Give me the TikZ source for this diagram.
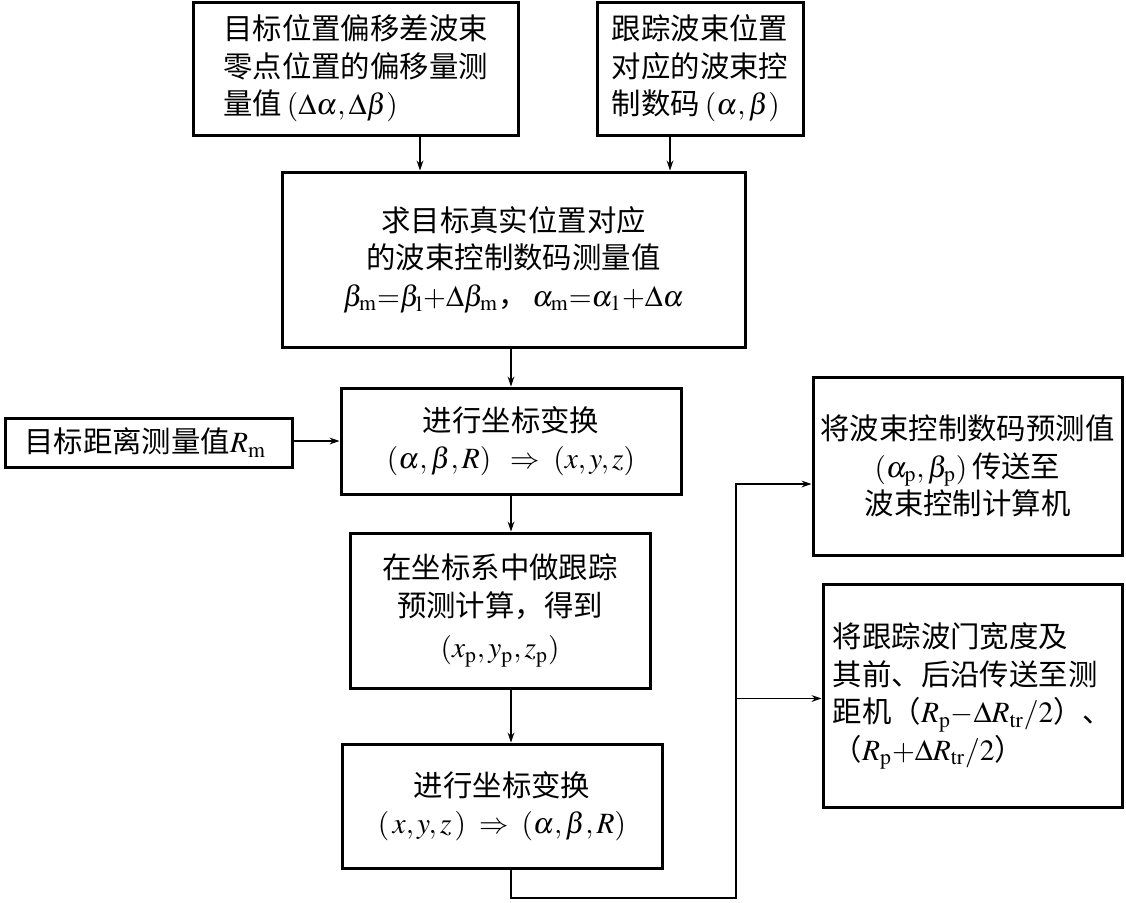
\documentclass[tikz,border=0pt]{standalone}
\usepackage{mathptmx}
\usepackage{fontspec}
\setmainfont{Liberation Serif}
\newfontfamily\cjk{Noto Sans CJK SC}
\usetikzlibrary{arrows.meta,positioning}

\begin{document}
\begin{tikzpicture}[
      x=0.5pt, y=-0.5pt,
      block/.style={
        draw=black, line width=1.5pt, fill=white, align=center,
        font=\cjk\fontsize{14.7}{18.8}\selectfont, inner sep=2pt
      },
      rel/.style={-{Stealth[length=5pt,width=3.4pt]}, line width=0.6pt, draw=black}
    ]
    \useasboundingbox (0,0) rectangle (1126,902);

    \node[block, align=left, minimum width=162.5pt, minimum height=66.5pt] (offs) at (355.5,68.5) {
      目标位置偏移差波束\\
      零点位置的偏移量测\\
      量值\,$(\Delta\alpha,\Delta\beta)$
    };
    \node[block, align=left, minimum width=103pt, minimum height=66.5pt] (code) at (700,68.5) {
      跟踪波束位置\\
      对应的波束控\\
      制数码\,$(\alpha,\beta)$
    };
    \node[block, minimum width=231.5pt, minimum height=87.5pt] (solve) at (513.5,259.5) {
      求目标真实位置对应\\
      的波束控制数码测量值\\
      $\beta_{\rm m}{=}\beta_{\rm l}{+}\Delta\beta_{\rm m}$，\,$\alpha_{\rm m}{=}\alpha_1{+}\Delta\alpha$
    };
    \node[block, minimum width=170pt, minimum height=53pt] (conv) at (511,441) {
      进行坐标变换\\
      $(\alpha,\beta,R)\;\;\Rightarrow\;(x,y,z)$
    };
    \node[block, minimum width=143.5pt, minimum height=24.5pt] (range) at (148.5,442.5) {
      目标距离测量值$R_{\rm m}$
    };
    \node[block, minimum width=150pt, minimum height=77.5pt] (track) at (500,610.5) {
      在坐标系中做跟踪\\
      预测计算，得到\\[2pt]
      $(x_{\rm p},y_{\rm p},z_{\rm p})$
    };
    \node[block, minimum width=160pt, minimum height=62pt] (back) at (502,806) {
      进行坐标变换\\
      $(\,x,y,z\,)\;\Rightarrow\;(\alpha,\beta,R)$
    };
    \node[block, minimum width=154.5pt, minimum height=89pt] (beam) at (967.5,466) {
      将波束控制数码预测值\\
      $(\alpha_{\rm p},\beta_{\rm p})$\,传送至\\
      波束控制计算机
    };
    \node[block, align=left, minimum width=149.5pt, minimum height=111.5pt] (gate) at (972.5,696) {
      将跟踪波门宽度及\\
      其前、后沿传送至测\\
      距机（$R_{\rm p}{-}\Delta R_{\rm tr}/2$）、\\
      （$R_{\rm p}{+}\Delta R_{\rm tr}/2$）
    };

    \coordinate (bus) at (736,898);

    \draw[rel] ([xshift=32.25pt]offs.south) -- ([xshift=32.25pt]offs.south |- solve.north);
    \draw[rel] ([xshift=-15pt]code.south) -- ([xshift=-15pt]code.south |- solve.north);
    \draw[rel] (conv.north |- solve.south) -- (conv.north);
    \draw[rel] (range.east |- conv.west) -- (conv.west);
    \draw[rel] (conv.south) -- (conv.south |- track.north);
    \draw[rel] (conv.south |- track.south) -- (conv.south |- back.north);
    \draw[line width=0.6pt] (conv.south |- back.south) |- (bus) -- ([yshift=-1.25pt]bus |- gate.west);
    \draw[rel] ([yshift=-1.25pt]bus |- gate.west) |- ([yshift=-9pt]beam.west);
    \draw[rel] ([yshift=-1.25pt]bus |- gate.west) -- ([yshift=-1.25pt]gate.west);
  \end{tikzpicture}
\end{document}
